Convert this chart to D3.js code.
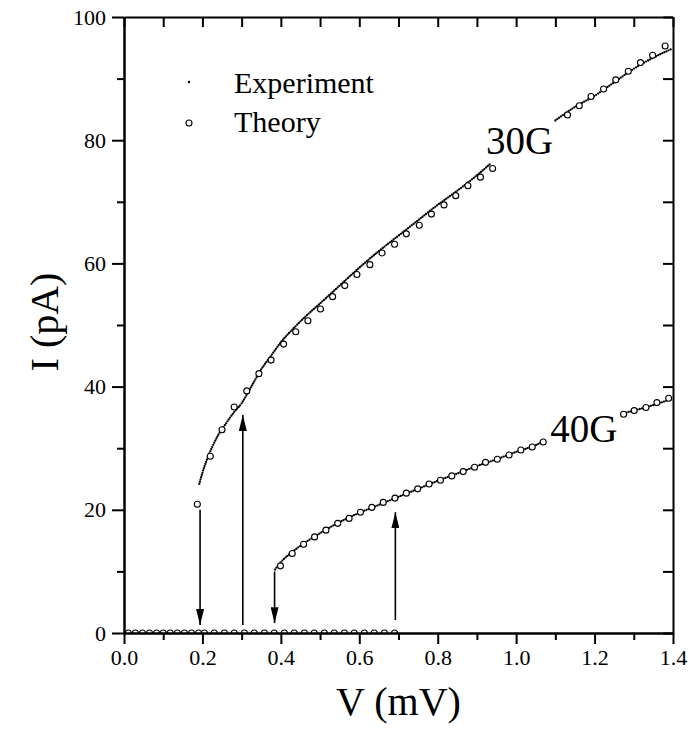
<!DOCTYPE html>
<meta charset="utf-8">
<script src="https://d3js.org/d3.v7.min.js"></script>
<style>
  body { margin: 0; background: #fff; }
  text { font-family: "Liberation Serif", "Times New Roman", serif; fill: #000; }
</style>
<div id="chart"></div>
<script>

// ---- data: [V (mV), I (pA)] ----
// experiment, 30G (two pieces, the label sits in the gap)
const exp30a = [[0.192,24.2],[0.20,26.0],[0.21,27.9],[0.225,30.2],[0.24,32.1],[0.26,34.0],
  [0.28,35.8],[0.30,37.3],[0.315,38.9],[0.33,40.6],[0.35,42.8],[0.375,45.0],[0.40,47.2],
  [0.43,49.3],[0.47,51.8],[0.50,53.5],[0.55,56.4],[0.60,59.3],[0.65,62.0],[0.70,64.5],
  [0.75,67.0],[0.80,69.5],[0.85,71.8],[0.90,74.3],[0.935,76.2]];
const exp30b = [[1.10,83.2],[1.15,85.4],[1.20,87.2],[1.25,89.4],[1.30,91.6],[1.35,93.4],[1.396,94.8]];
// experiment, 40G
const exp40a = [[0.385,10.3],[0.40,11.5],[0.43,13.2],[0.46,14.6],[0.50,16.2],[0.55,18.0],
  [0.60,19.5],[0.65,20.8],[0.70,22.1],[0.75,23.4],[0.80,24.7],[0.85,25.9],[0.90,27.1],
  [0.95,28.2],[1.00,29.4],[1.05,30.5],[1.072,31.2]];
const exp40b = [[1.27,35.6],[1.30,36.1],[1.35,37.0],[1.396,38.0]];

// theory points
const theory30 = [[0.187,20.9],[0.220,28.7],[0.250,33.0],[0.281,36.7],[0.313,39.3],[0.344,42.1],
  [0.375,44.3],[0.407,46.9],[0.438,48.9],[0.469,50.7],[0.501,52.6],[0.532,54.6],[0.563,56.4],
  [0.594,58.2],[0.627,59.8],[0.658,61.7],[0.690,63.1],[0.720,64.8],[0.753,66.2],[0.784,68.0],
  [0.816,69.5],[0.846,71.0],[0.877,72.6],[0.909,74.0],[0.940,75.4],
  [1.131,84.1],[1.161,85.6],[1.191,87.1],[1.223,88.3],[1.254,89.8],[1.286,91.2],[1.317,92.6],
  [1.348,93.8],[1.380,95.3]];
const theory40 = [[0.399,10.9],[0.429,12.9],[0.458,14.4],[0.486,15.6],[0.515,16.7],[0.545,17.8],
  [0.574,18.6],[0.603,19.6],[0.632,20.4],[0.661,21.2],[0.691,21.9],[0.720,22.7],[0.749,23.4],
  [0.778,24.2],[0.807,24.8],[0.836,25.5],[0.865,26.2],[0.894,26.9],[0.922,27.7],[0.952,28.2],
  [0.982,28.9],[1.012,29.7],[1.041,30.2],[1.069,31.0],
  [1.274,35.5],[1.301,36.1],[1.331,36.6],[1.359,37.4],[1.389,38.1]];
const theoryZeroV = [0.011,0.029,0.047,0.065,0.083,0.100,0.118,0.136,0.154,0.172,0.190,
  0.205,0.230,0.256,0.281,0.307,0.332,0.358,0.383,0.409,0.434,0.460,0.485,0.511,0.536,
  0.562,0.587,0.613,0.638,0.664,0.690];

// arrows: voltage, start current, tip current
const arrows = [
  {v: 0.194, from: 20.0, to: 1.3},
  {v: 0.303, from: 1.3, to: 35.4},
  {v: 0.384, from: 10.0, to: 1.6},
  {v: 0.692, from: 2.1, to: 19.6}
];

const curveLabels = [{text: "30G", v: 0.923, i: 77.7}, {text: "40G", v: 1.087, i: 31.0}];

// ticks
const xMajor = [0, 0.2, 0.4, 0.6, 0.8, 1.0, 1.2, 1.4];
const xMinor = [0.1, 0.3, 0.5, 0.7, 0.9, 1.1, 1.3];
const yMajor = [0, 20, 40, 60, 80, 100];
const yMinor = [10, 30, 50, 70, 90];

// ---- layout ----
const W = 690, H = 733;
const margin = {top: 17, right: 17, bottom: 100, left: 124};
const width = W - margin.left - margin.right,
      height = H - margin.top - margin.bottom;
const serif = '"Liberation Serif", "Times New Roman", serif';

const svg = d3.select("#chart").append("svg")
  .attr("width", W).attr("height", H);
const g = svg.append("g").attr("transform", `translate(${margin.left},${margin.top})`);

const x = d3.scaleLinear().domain([0, 1.4]).range([0, width]);
const y = d3.scaleLinear().domain([0, 100]).range([height, 0]);

// clip so the zero-current circles only show above the axis
const defs = svg.append("defs");
defs.append("clipPath").attr("id", "plotclip")
  .append("rect").attr("width", width).attr("height", height);

// arrow head
defs.append("marker")
  .attr("id", "head")
  .attr("markerUnits", "userSpaceOnUse")
  .attr("viewBox", "0 -4 16 8")
  .attr("refX", 16).attr("refY", 0)
  .attr("markerWidth", 16).attr("markerHeight", 8)
  .attr("orient", "auto")
  .append("path").attr("d", "M0,-4L16,0L0,4Z").attr("fill", "#000");

const plot = g.append("g").attr("clip-path", "url(#plotclip)");

// experiment: dense dots drawn as a dotted curve
const line = d3.line().x(d => x(d[0])).y(d => y(d[1])).curve(d3.curveMonotoneX);
[exp30a, exp30b, exp40a, exp40b].forEach(seg => {
  plot.append("path")
    .attr("d", line(seg))
    .attr("fill", "none")
    .attr("stroke", "#000")
    .attr("stroke-width", 2.3)
    .attr("stroke-linecap", "round")
    .attr("stroke-dasharray", "0 2.3");
});

// theory circles
const theoryAll = theory30.concat(theory40, theoryZeroV.map(v => [v, 0]));
plot.selectAll("circle.th")
  .data(theoryAll)
  .join("circle")
    .attr("class", "th")
    .attr("cx", d => x(d[0]))
    .attr("cy", d => y(d[1]))
    .attr("r", 3)
    .attr("fill", "#fff")
    .attr("stroke", "#000")
    .attr("stroke-width", 1.1);

// arrows
g.selectAll("line.arrow")
  .data(arrows)
  .join("line")
    .attr("class", "arrow")
    .attr("x1", d => x(d.v)).attr("x2", d => x(d.v))
    .attr("y1", d => y(d.from)).attr("y2", d => y(d.to))
    .attr("stroke", "#000")
    .attr("stroke-width", 1.6)
    .attr("marker-end", "url(#head)");

// curve labels
g.selectAll("text.curve")
  .data(curveLabels)
  .join("text")
    .attr("class", "curve")
    .attr("x", d => x(d.v))
    .attr("y", d => y(d.i))
    .style("font-size", "39px")
    .text(d => d.text);

// ---- axes ----
function styleAxis(sel) {
  sel.attr("font-family", serif).attr("font-size", 22);
  sel.select(".domain").attr("stroke-width", 2);
  sel.selectAll(".tick line").attr("stroke-width", 2);
  sel.selectAll(".tick text").style("font-family", serif).style("font-size", "22px");
}

g.append("g").attr("transform", `translate(0,${height})`)
  .call(d3.axisBottom(x).tickValues(xMinor).tickSize(7).tickSizeOuter(0).tickFormat(""))
  .call(styleAxis);
g.append("g").attr("transform", `translate(0,${height})`)
  .call(d3.axisBottom(x).tickValues(xMajor).tickSize(11).tickSizeOuter(0)
    .tickPadding(5).tickFormat(d3.format(".1f")))
  .call(styleAxis);

g.append("g")
  .call(d3.axisTop(x).tickValues(xMajor.concat(xMinor)).tickSize(-10).tickSizeOuter(0).tickFormat(""))
  .call(styleAxis);

g.append("g")
  .call(d3.axisLeft(y).tickValues(yMinor).tickSize(7).tickSizeOuter(0).tickFormat(""))
  .call(styleAxis);
g.append("g")
  .call(d3.axisLeft(y).tickValues(yMajor).tickSize(12).tickSizeOuter(0).tickPadding(6))
  .call(styleAxis);

g.append("g").attr("transform", `translate(${width},0)`)
  .call(d3.axisRight(y).tickValues(yMajor.concat(yMinor)).tickSize(-10).tickSizeOuter(0).tickFormat(""))
  .call(styleAxis);

// axis titles
g.append("text")
  .attr("text-anchor", "middle")
  .attr("x", width / 2)
  .attr("y", height + 82)
  .style("font-size", "40px")
  .text("V (mV)");

g.append("text")
  .attr("text-anchor", "middle")
  .attr("transform", "rotate(-90)")
  .attr("x", -height / 2 + 3)
  .attr("y", -66)
  .style("font-size", "40px")
  .text("I (pA)");

// legend
const legend = g.append("g").attr("transform", "translate(65,0)");
legend.append("circle").attr("cx", 0).attr("cy", 65).attr("r", 1.2).attr("fill", "#000");
legend.append("circle").attr("cx", 0).attr("cy", 106).attr("r", 3)
  .attr("fill", "#fff").attr("stroke", "#000").attr("stroke-width", 1.1);
legend.append("text").attr("x", 45).attr("y", 76).style("font-size", "30px").text("Experiment");
legend.append("text").attr("x", 45).attr("y", 115).style("font-size", "30px").text("Theory");

</script>
